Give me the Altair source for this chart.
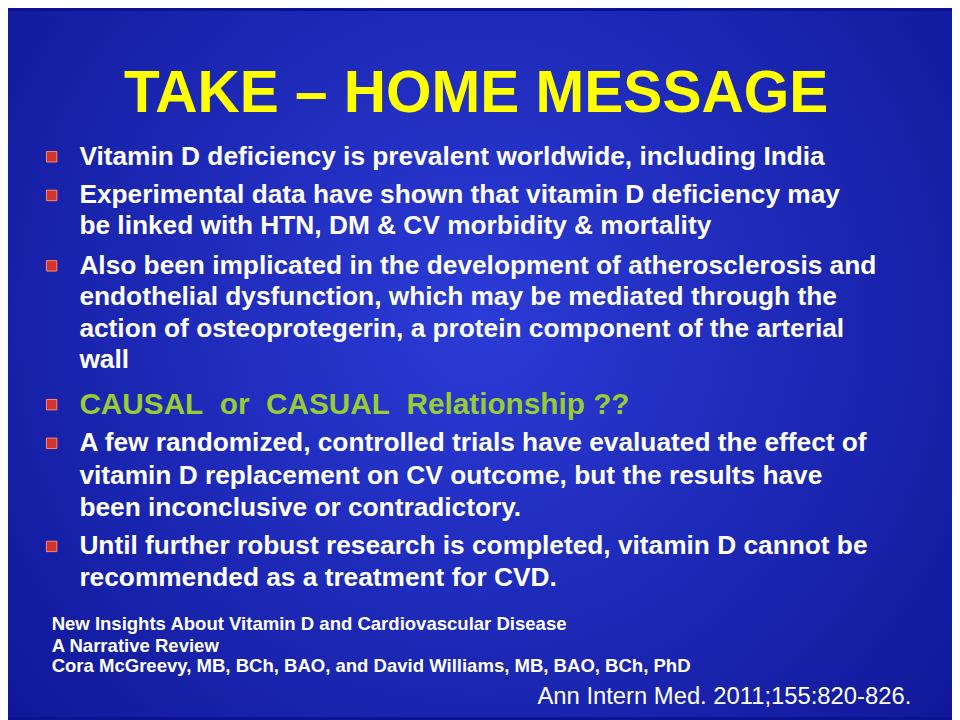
import altair as alt
import pandas as pd

title = ["TAKE – HOME MESSAGE"]
body_lines = [
    "Vitamin D deficiency is prevalent worldwide, including India",
    "Experimental data have shown that vitamin D deficiency may",
    "be linked with HTN, DM & CV morbidity & mortality",
    "Also been implicated in the development of atherosclerosis and",
    "endothelial dysfunction, which may be mediated through the",
    "action of osteoprotegerin, a protein component of the arterial",
    "wall",
    "A few randomized, controlled trials have evaluated the effect of",
    "vitamin D replacement on CV outcome, but the results have",
    "been inconclusive or contradictory.",
    "Until further robust research is completed, vitamin D cannot be",
    "recommended as a treatment for CVD.",
]
body_rows = [155, 194, 225, 265, 297, 329, 360, 444, 477, 509, 548, 580]
highlight = ["CAUSAL\u00a0\u00a0or\u00a0\u00a0CASUAL\u00a0\u00a0Relationship ??"]
highlight_rows = [405]
bullet_rows = [155, 194, 265, 405, 444, 548]
ref_lines = [
    "New Insights About Vitamin D and Cardiovascular Disease",
    "A Narrative Review",
    "Cora McGreevy, MB, BCh, BAO, and David Williams, MB, BAO, BCh, PhD",
]
ref_rows = [626, 648, 669]
journal = ["Ann Intern Med. 2011;155:820-826."]

xs = alt.Scale(domain=[8, 960])
ys = alt.Scale(domain=[8, 720], reverse=True)
X = lambda f: alt.X(f, scale=xs, axis=None)
Y = lambda f: alt.Y(f, scale=ys, axis=None)
font = "Liberation Sans"

bg = alt.Chart(pd.DataFrame({"x": [8], "x2": [960], "y": [8], "y2": [720]})).mark_rect(
    fill=alt.Gradient(gradient="radial", x1=0.5, y1=0.45, x2=0.5, y2=0.45, r1=0, r2=0.75,
                      stops=[alt.GradientStop(color="#2b3bd6", offset=0),
                             alt.GradientStop(color="#0c1390", offset=1)])
).encode(x=X("x:Q"), x2="x2:Q", y=Y("y:Q"), y2="y2:Q")

t = alt.Chart(pd.DataFrame({"t": title, "x": [480], "y": [92]})).mark_text(
    font=font, fontSize=59, fontWeight="bold", color="#ffff00", align="center", baseline="middle"
).encode(x=X("x:Q"), y=Y("y:Q"), text="t:N")

b = alt.Chart(pd.DataFrame({"t": body_lines, "x": [80] * len(body_lines), "y": body_rows})).mark_text(
    font=font, fontSize=26.5, fontWeight="bold", color="white", align="left", baseline="middle"
).encode(x=X("x:Q"), y=Y("y:Q"), text="t:N")

h = alt.Chart(pd.DataFrame({"t": highlight, "x": [80], "y": highlight_rows})).mark_text(
    font=font, fontSize=30, fontWeight="bold", color="#99cc33", align="left", baseline="middle"
).encode(x=X("x:Q"), y=Y("y:Q"), text="t:N")

sq = alt.Chart(pd.DataFrame({"x": [52] * len(bullet_rows), "y": bullet_rows})).mark_square(
    size=110, color="#d0342c", opacity=1, stroke="#ff8a70", strokeWidth=1
).encode(x=X("x:Q"), y=Y("y:Q"))

r = alt.Chart(pd.DataFrame({"t": ref_lines, "x": [52] * 3, "y": ref_rows})).mark_text(
    font=font, fontSize=18.7, fontWeight="bold", color="white", align="left", baseline="middle"
).encode(x=X("x:Q"), y=Y("y:Q"), text="t:N")

j = alt.Chart(pd.DataFrame({"t": journal, "x": [542], "y": [700]})).mark_text(
    font=font, fontSize=24, color="white", align="left", baseline="middle"
).encode(x=X("x:Q"), y=Y("y:Q"), text="t:N")

chart = alt.layer(bg, t, b, h, sq, r, j).properties(
    width=952, height=712, padding=0, background="#0c1390"
).configure_view(stroke=None)

chart.save("out.html", embed_options={"renderer": "svg", "actions": False})
